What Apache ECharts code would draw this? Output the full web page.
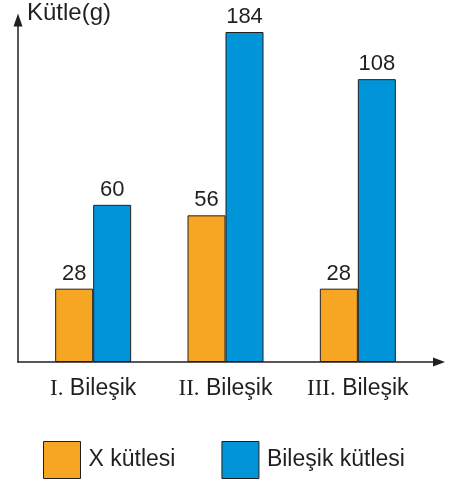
<!DOCTYPE html>
<html><head><meta charset="utf-8">
<script src="https://cdn.jsdelivr.net/npm/echarts@6/dist/echarts.min.js"></script>
<style>html,body{margin:0;padding:0;background:#fff}#c{width:449px;height:482px}</style>
</head><body><div id="c"></div>
<script>
const categories = ['I. Bileşik', 'II. Bileşik', 'III. Bileşik'];
const seriesNames = ['X kütlesi', 'Bileşik kütlesi'];
const xMass = [28, 56, 28];
const compoundMass = [60, 184, 108];
const yAxisTitle = 'Kütle(g)';

const FONT = '"Liberation Sans", Arial, sans-serif';
const INK = '#231f20';
const ORANGE = '#f6a623';
const BLUE = '#0095d9';

const chart = echarts.init(document.getElementById('c'));
chart.setOption({
  animation: false,
  backgroundColor: '#fff',
  title: { text: yAxisTitle, left: 27, top: 1, padding: 0, textStyle: { fontFamily: FONT, fontSize: 24, fontWeight: 'normal', color: INK } },
  legend: {
    data: seriesNames, left: 43, top: 441, padding: 0, itemWidth: 37, itemHeight: 37, itemGap: 46, icon: 'rect',
    itemStyle: { borderColor: INK, borderWidth: 1 },
    textStyle: { fontFamily: FONT, fontSize: 23, color: INK, padding: [0, 0, 0, 3] }
  },
  grid: [
    { left: 27, right: 25, top: 32, bottom: 120 },
    { left: 18, right: 10, top: 20, bottom: 120 }
  ],
  xAxis: [
    {
      type: 'category', gridIndex: 0, data: categories,
      axisLine: { show: false }, axisTick: { show: false },
      axisLabel: {
        margin: 15,
        formatter: function (v) { const i = v.indexOf(' '); return '{r|' + v.slice(0, i) + '}{s| ' + v.slice(i + 1) + '}'; },
        rich: {
          r: { fontFamily: '"Liberation Serif", "Times New Roman", serif', fontSize: 23, color: INK },
          s: { fontFamily: FONT, fontSize: 23, color: INK }
        }
      }
    },
    {
      type: 'category', gridIndex: 1, data: [''],
      axisLine: { show: true, symbol: ['none', 'triangle'], symbolSize: [9, 12], lineStyle: { color: INK, width: 1.5 } },
      axisTick: { show: false }, axisLabel: { show: false }, splitLine: { show: false }
    }
  ],
  yAxis: [
    {
      type: 'value', gridIndex: 0, min: 0, max: 184, show: false, splitLine: { show: false },
      breaks: [{ start: 115, end: 173, gap: 0 }],
      breakArea: { show: false, itemStyle: { opacity: 0 } }
    },
    {
      type: 'value', gridIndex: 1, min: 0, max: 1,
      axisLine: { show: true, symbol: ['none', 'triangle'], symbolSize: [9, 13], lineStyle: { color: INK, width: 1.5 } },
      axisTick: { show: false }, axisLabel: { show: false }, splitLine: { show: false }
    }
  ],
  series: [
    {
      name: seriesNames[0], type: 'bar', xAxisIndex: 0, yAxisIndex: 0, data: xMass,
      barWidth: 38, barGap: '0%',
      itemStyle: { color: ORANGE, borderColor: INK, borderWidth: 1 },
      label: { show: true, position: 'top', distance: 4, fontFamily: FONT, fontSize: 22, color: INK }
    },
    {
      name: seriesNames[1], type: 'bar', xAxisIndex: 0, yAxisIndex: 0, data: compoundMass,
      barWidth: 38, barGap: '0%',
      itemStyle: { color: BLUE, borderColor: INK, borderWidth: 1 },
      label: { show: true, position: 'top', distance: 4, fontFamily: FONT, fontSize: 22, color: INK }
    }
  ]
});
</script></body></html>
